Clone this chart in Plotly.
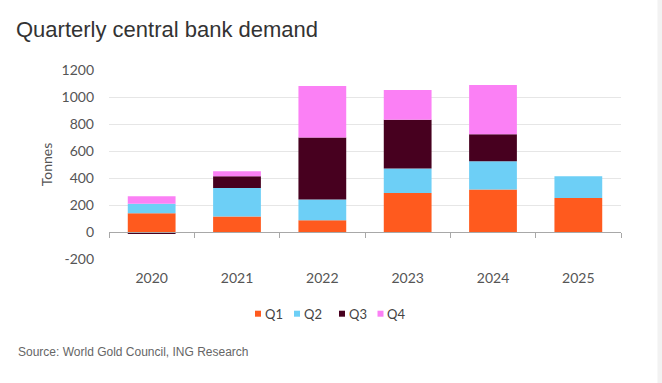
import plotly.graph_objects as go

years = ["2020", "2021", "2022", "2023", "2024", "2025"]
q1 = [138, 114, 87, 289, 314, 252]
q2 = [72, 212, 153, 181, 210, 161]
q3 = [-12, 87, 460, 361, 201, None]
q4 = [55, 37, 381, 220, 363, None]
series_names = ["Q1", "Q2", "Q3", "Q4"]
colors = ["#ff5a1e", "#6dcff6", "#47001f", "#fb80f5"]
y_ticks = [-200, 0, 200, 400, 600, 800, 1000, 1200]
y_tick_labels = ["-200", "0", "200", "400", "600", "800", "1000", "1200"]

W, H = 662, 383
L, R, T, B = 109, 41, 70, 124
PW, PH = W - L - R, H - T - B


def px_x(px):
    return (px - L) / PW


def px_y(py):
    return (H - B - py) / PH


fig = go.Figure()
for name, vals, col in zip(series_names, [q1, q2, q3, q4], colors):
    fig.add_trace(go.Bar(x=years, y=vals, name=name, marker_color=col,
                         marker_line_width=0, showlegend=False))

# helper trace for the zero-line axis with boundary ticks
fig.add_trace(go.Scatter(x=years, y=[0] * len(years), xaxis="x2", mode="markers",
                         marker=dict(opacity=0), hoverinfo="skip", showlegend=False))

font_main = "Lato, 'Open Sans', sans-serif"

fig.update_layout(
    width=W, height=H,
    margin=dict(l=L, r=R, t=T, b=B),
    barmode="relative",
    bargap=0.44,
    plot_bgcolor="white",
    paper_bgcolor="white",
    title=dict(text="Quarterly central bank demand", x=16 / W, xref="container",
               xanchor="left", y=1 - 29 / H, yanchor="middle", yref="container",
               font=dict(family="Liberation Sans, Arial, sans-serif", size=22, color="#333333")),
    xaxis=dict(type="category", categoryarray=years, showline=False, ticks="",
               showgrid=False, tickfont=dict(family=font_main, size=14, color="#555555"),
               ticklabelstandoff=9),
    xaxis2=dict(type="category", categoryarray=years, overlaying="x", anchor="free",
                position=200 / 1400, side="bottom", showline=True, linecolor="#a8a8a8",
                linewidth=1, ticks="outside", ticklen=5, tickcolor="#a8a8a8",
                tickson="boundaries", showticklabels=False, showgrid=False,
                matches="x"),
    yaxis=dict(range=[-200, 1200], tickvals=y_ticks, ticktext=y_tick_labels,
               showgrid=True, gridcolor="#e6e6e6",
               gridwidth=1, zeroline=False, showline=False,
               tickfont=dict(family=font_main, size=14, color="#555555"),
               ticklabelstandoff=14,
               title=dict(text="Tonnes", font=dict(family=font_main, size=14, color="#555555"),
                          standoff=5)),
)

# manual legend
legend_marker_x = [258, 297, 342, 380.5]
legend_text_x = [262.5, 301.5, 346.5, 384.5]
ly = 313.7
shapes = []
annotations = []
for name, col, mx, tx in zip(series_names, colors, legend_marker_x, legend_text_x):
    shapes.append(dict(type="rect", xref="paper", yref="paper",
                       x0=px_x(mx - 3), x1=px_x(mx + 3), y0=px_y(ly + 3), y1=px_y(ly - 3),
                       fillcolor=col, line=dict(width=0)))
    annotations.append(dict(text=name, xref="paper", yref="paper", x=px_x(tx), y=px_y(ly),
                            xanchor="left", yanchor="middle", showarrow=False,
                            font=dict(family=font_main, size=13, color="#444444")))

annotations.append(dict(text="Source: World Gold Council, ING Research", xref="paper",
                        yref="paper", x=px_x(16), y=px_y(352), xanchor="left",
                        yanchor="middle", showarrow=False,
                        font=dict(family="Liberation Sans, Arial, sans-serif", size=12,
                                  color="#666666")))

# light strip at right edge of the screenshot
shapes.append(dict(type="rect", xref="paper", yref="paper", x0=px_x(657.5), x1=px_x(663),
                   y0=px_y(H + 1), y1=px_y(-1), fillcolor="#f2f2f2", line=dict(width=0),
                   layer="below"))

fig.update_layout(shapes=shapes, annotations=annotations)

fig.write_html("out.html", config={"displayModeBar": False},
               post_script="document.body.style.margin='0';document.body.style.padding='0';")
